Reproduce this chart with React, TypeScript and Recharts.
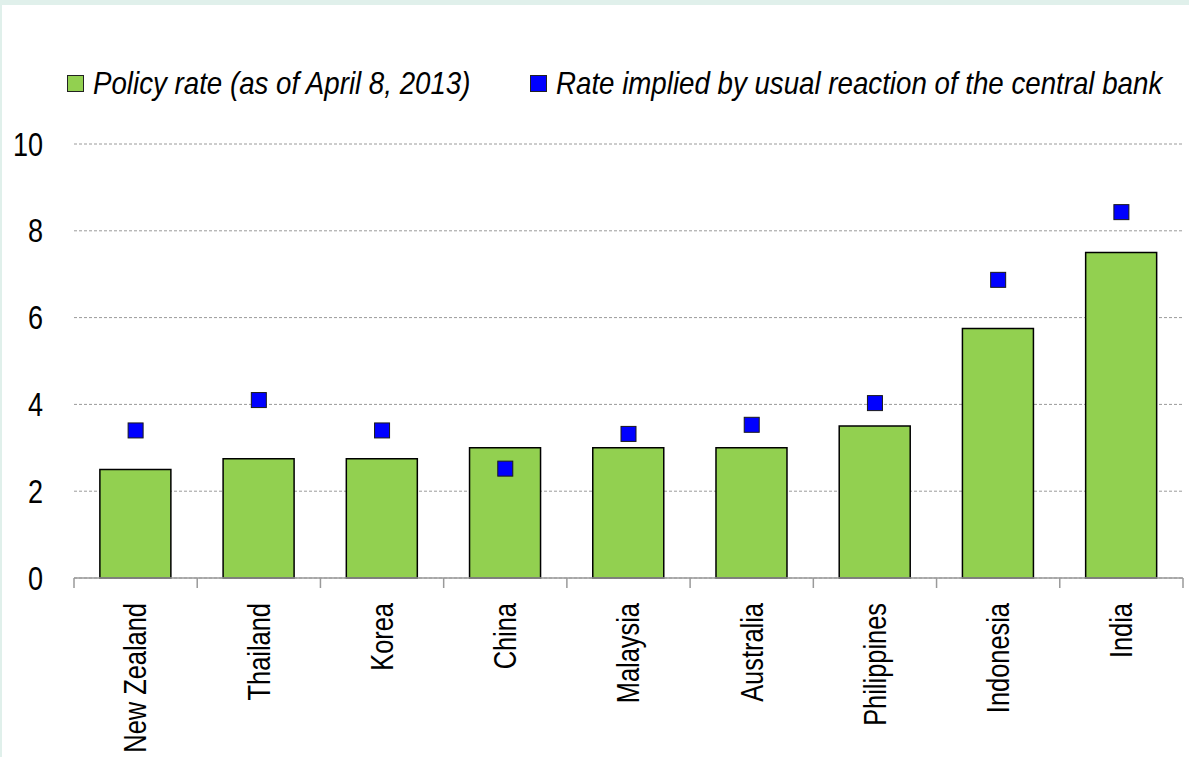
import { Bar, CartesianGrid, ComposedChart, Legend, Scatter, XAxis, YAxis } from "recharts";

// Policy rates vs. rate implied by the usual central-bank reaction (per cent)
const countries = [
  "New Zealand",
  "Thailand",
  "Korea",
  "China",
  "Malaysia",
  "Australia",
  "Philippines",
  "Indonesia",
  "India",
];
const policyRate = [2.5, 2.75, 2.75, 3.0, 3.0, 3.0, 3.5, 5.75, 7.5];
const impliedRate = [3.4, 4.1, 3.4, 2.52, 3.32, 3.53, 4.03, 6.87, 8.43];
const yTicks = [0, 2, 4, 6, 8, 10];

const SERIES_POLICY = "Policy rate (as of April 8, 2013)";
const SERIES_IMPLIED = "Rate implied by usual reaction of the central bank";

// 没有窄体字库:用 Liberation Sans 横向压缩来近似原图的窄体字
const FONT = '"Liberation Sans", Arial, sans-serif';
const SQUEEZE = 0.82;
const GREEN = "#92D050";
const BLUE = "#0000FF";
const AXIS_GREY = "#9a9a9a";

const CHART_W = 1187;
const CHART_H = 752;
const MARGIN = { top: 0, right: 6, bottom: 0, left: 0 };
const Y_AXIS_W = 72;
const X_AXIS_H = 179;
const BAND = (CHART_W - MARGIN.left - MARGIN.right - Y_AXIS_W) / countries.length;

const data = countries.map((name, i) => ({
  name,
  policy: policyRate[i],
  implied: impliedRate[i],
}));

// 类目标签竖排,刻度线画在类目边界上(不是中心)
function CountryTick(props: any) {
  const { x, y, payload, index } = props;
  const left = x - BAND / 2;
  const right = x + BAND / 2;
  const isLast = index === countries.length - 1;
  return (
    <g>
      <line x1={left} y1={y - 8} x2={left} y2={y + 2} stroke={AXIS_GREY} strokeWidth={1.5} />
      {isLast && (
        <line x1={right} y1={y - 8} x2={right} y2={y + 2} stroke={AXIS_GREY} strokeWidth={1.5} />
      )}
      <text
        x={0}
        y={0}
        dy="0.35em"
        transform={`translate(${x},${y + 17}) rotate(-90) scale(${SQUEEZE},1)`}
        textAnchor="end"
        fontFamily={FONT}
        fontSize={31}
        fill="#000"
      >
        {payload.value}
      </text>
    </g>
  );
}

function ValueTick(props: any) {
  const { x, y, payload } = props;
  return (
    <text
      x={0}
      y={0}
      dy="0.35em"
      transform={`translate(${x},${y}) scale(${SQUEEZE},1)`}
      textAnchor="end"
      fontFamily={FONT}
      fontSize={33}
      fill="#000"
    >
      {payload.value}
    </text>
  );
}

function SquareMarker(props: any) {
  const { cx, cy } = props;
  if (cx == null || cy == null) return null;
  return (
    <rect x={cx - 7.5} y={cy - 7.5} width={15} height={15} fill={BLUE} stroke="#1a1a1a" strokeWidth={1} />
  );
}

function LegendBox() {
  const item = (color: string, label: string, left: number) => (
    <div style={{ position: "absolute", left, top: 58, height: 40, display: "flex", alignItems: "center" }}>
      <span
        style={{
          display: "inline-block",
          width: 15,
          height: 15,
          background: color,
          border: "1.5px solid #222",
          marginRight: 9,
        }}
      />
      <span
        style={{
          display: "inline-block",
          whiteSpace: "nowrap",
          fontStyle: "italic",
          fontSize: 32,
          fontFamily: FONT,
          color: "#000",
          transform: "scaleX(0.865)",
          transformOrigin: "left center",
        }}
      >
        {label}
      </span>
    </div>
  );
  return (
    <div style={{ position: "relative", width: CHART_W, height: 139 }}>
      {item(GREEN, SERIES_POLICY, 65)}
      {item(BLUE, SERIES_IMPLIED, 528)}
    </div>
  );
}

export default function App() {
  return (
    <div
      style={{
        position: "absolute",
        left: 0,
        top: 0,
        width: 1189,
        height: 757,
        background: "#e0f0eb",
        overflow: "hidden",
      }}
    >
      <div style={{ position: "absolute", left: 2, top: 5, width: CHART_W, height: CHART_H, background: "#fff" }}>
        <ComposedChart width={CHART_W} height={CHART_H} data={data} margin={MARGIN} barCategoryGap="21%">
          <CartesianGrid vertical={false} stroke={AXIS_GREY} strokeDasharray="3 2" />
          <XAxis
            dataKey="name"
            interval={0}
            height={X_AXIS_H}
            axisLine={{ stroke: AXIS_GREY, strokeWidth: 1.5 }}
            tickLine={false}
            tick={<CountryTick />}
          />
          <YAxis
            domain={[0, 10]}
            ticks={yTicks}
            width={Y_AXIS_W}
            axisLine={false}
            tickLine={false}
            tickMargin={25}
            tick={<ValueTick />}
          />
          <Legend verticalAlign="top" align="left" content={<LegendBox />} wrapperStyle={{ top: 0, left: 0 }} />
          <Bar dataKey="policy" name={SERIES_POLICY} fill={GREEN} stroke="#000" strokeWidth={1.5} isAnimationActive={false} />
          <Scatter dataKey="implied" name={SERIES_IMPLIED} shape={<SquareMarker />} isAnimationActive={false} />
        </ComposedChart>
      </div>
    </div>
  );
}
